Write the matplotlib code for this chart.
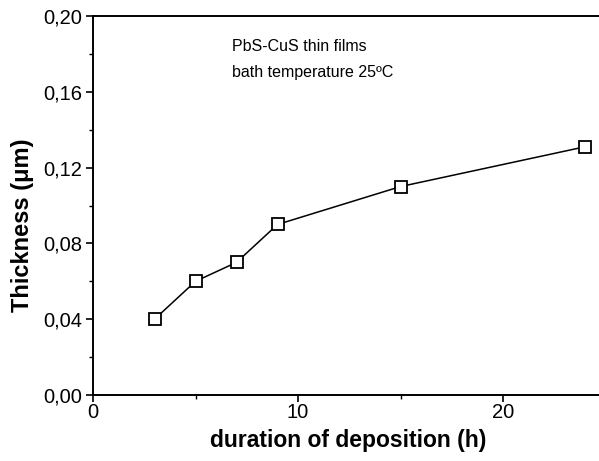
import matplotlib.pyplot as plt
from matplotlib.ticker import FixedLocator, MultipleLocator

plt.rcParams['font.family'] = ['Liberation Sans', 'DejaVu Sans']

hours = [3, 5, 7, 9, 15, 24]
thickness = [0.040, 0.060, 0.070, 0.090, 0.110, 0.131]

yticks = [0.00, 0.04, 0.08, 0.12, 0.16, 0.20]
ytick_labels = ['0,00', '0,04', '0,08', '0,12', '0,16', '0,20']
xticks = [0, 10, 20]

fig = plt.figure(figsize=(5.99, 4.61), dpi=100)
ax = fig.add_axes([0.1553, 0.1432, 0.8556, 0.822])

ax.plot(hours, thickness, color='black', lw=1.1, marker='s', ms=8.5,
        mfc='white', mec='black', mew=1.3)

ax.set_xlim(0, 25)
ax.set_ylim(0, 0.20)
ax.xaxis.set_major_locator(FixedLocator(xticks))
ax.xaxis.set_minor_locator(MultipleLocator(5))
ax.yaxis.set_major_locator(FixedLocator(yticks))
ax.set_yticklabels(ytick_labels)
ax.yaxis.set_minor_locator(MultipleLocator(0.02))

ax.tick_params(which='major', direction='out', length=5, width=1.2, labelsize=14.5)
ax.tick_params(axis='x', which='major', pad=1)
ax.tick_params(axis='y', which='major', pad=3)
ax.tick_params(which='minor', direction='out', length=3, width=1)

for s in ['left', 'bottom', 'top']:
    ax.spines[s].set_linewidth(1.4)
ax.spines['right'].set_visible(False)

fig.text(348.5 / 599, 1 - 440 / 461, 'duration of deposition (h)',
         fontsize=16.5, fontweight='bold', ha='center', va='center')
fig.text(23 / 599, 1 - 225 / 461, 'Thickness (μm)', rotation=90,
         fontsize=17, fontweight='bold', ha='center', va='center')

ax.text(0.271, 0.919, 'PbS-CuS thin films', transform=ax.transAxes,
        fontsize=11.5, va='center')
ax.text(0.271, 0.852, 'bath temperature 25ºC', transform=ax.transAxes,
        fontsize=11.5, va='center')

fig.savefig('out.png', dpi=100)
